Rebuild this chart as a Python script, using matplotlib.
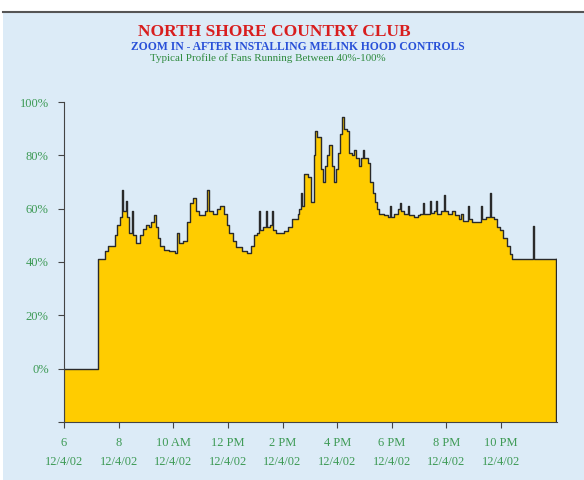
import numpy as np
import matplotlib.pyplot as plt
from matplotlib.patches import Rectangle

# Fan speed profile (hour of day, percent)
hours = [6.00, 7.24, 7.50, 7.61, 7.85, 7.93, 8.04, 8.13, 8.17, 8.27, 8.31, 8.38, 8.50, 8.54,
         8.62, 8.80, 8.88, 9.00, 9.10, 9.18, 9.30, 9.36, 9.45, 9.52, 9.65, 9.85, 10.05, 10.14,
         10.20, 10.35, 10.50, 10.60, 10.72, 10.85, 10.95, 11.15, 11.25, 11.32, 11.45, 11.62,
         11.70, 11.85, 11.95, 12.05, 12.18, 12.30, 12.50, 12.70, 12.85, 12.95, 13.05, 13.15,
         13.18, 13.30, 13.38, 13.42, 13.55, 13.60, 13.64, 13.75, 14.05, 14.20, 14.35, 14.55,
         14.62, 14.68, 14.72, 14.80, 14.95, 15.05, 15.15, 15.20, 15.28, 15.40, 15.48, 15.56,
         15.62, 15.70, 15.80, 15.88, 15.95, 16.03, 16.12, 16.18, 16.25, 16.35, 16.42, 16.55,
         16.62, 16.70, 16.80, 16.88, 16.95, 17.00, 17.12, 17.22, 17.30, 17.38, 17.45, 17.53,
         17.70, 17.85, 17.92, 17.96, 18.10, 18.22, 18.30, 18.34, 18.45, 18.60, 18.64, 18.80,
         18.95, 19.05, 19.15, 19.19, 19.40, 19.44, 19.55, 19.62, 19.66, 19.80, 19.90, 19.94,
         20.05, 20.20, 20.30, 20.45, 20.55, 20.62, 20.80, 20.84, 20.95, 21.10, 21.25, 21.29,
         21.45, 21.60, 21.64, 21.75, 21.85, 21.95, 22.08, 22.22, 22.33, 22.42, 23.17, 23.21,
         24.00]
fan_pct = [0, 41, 44, 46, 50, 54, 57, 67, 59, 63, 57, 51, 59, 50,
           47, 50, 52.5, 54, 53, 55, 57.5, 53, 49, 46, 44.5, 44, 43.5, 51,
           47, 48, 55, 62, 64, 59, 57.5, 59, 67, 59, 58, 60,
           61, 58, 54, 51, 48, 45.5, 44, 43.5, 46, 50, 51, 59,
           52, 53, 59, 53, 54, 59, 52, 51, 51.5, 53, 56, 58,
           60, 66, 61, 73, 72, 62.5, 80, 89, 87, 75, 70, 76,
           80, 84, 76, 70, 75, 81, 88, 94.5, 90, 89, 81, 80,
           82, 79, 76, 79, 82, 79, 77, 70, 66, 62.5, 60, 58,
           57.5, 57, 61, 57, 58, 60, 62, 59, 58, 61, 57.5, 57,
           57.5, 58, 62, 58, 63, 58.5, 59, 63, 58, 59, 65, 59,
           58, 59, 57.5, 56, 58, 55.5, 61, 56, 55, 55, 61, 56,
           57, 66, 57, 56, 53, 52, 49, 46, 43, 41, 53.5, 41,
           41]

tick_hours = [6, 8, 10, 12, 14, 16, 18, 20, 22]
tick_labels = ['6\n12/4/02', '8\n12/4/02', '10 AM\n12/4/02', '12 PM\n12/4/02',
               '2 PM\n12/4/02', '4 PM\n12/4/02', '6 PM\n12/4/02', '8 PM\n12/4/02',
               '10 PM\n12/4/02']
pct_ticks = [0, 20, 40, 60, 80, 100]

bg = '#dcebf7'
green = '#3d9a55'
serif = 'Liberation Serif'

fig = plt.figure(figsize=(5.84, 4.8), dpi=100, facecolor='white')
fig.patches.append(Rectangle((3 / 584, 0), 1, 468 / 480, transform=fig.transFigure,
                             facecolor=bg, edgecolor='none', zorder=-10))
fig.add_artist(plt.Line2D([3 / 584, 1], [468 / 480, 468 / 480], transform=fig.transFigure,
                          color='#555555', lw=1.5))

ax = fig.add_axes([64 / 584, 58 / 480, 493 / 584, 320 / 480])
ax.set_facecolor(bg)

ax.fill_between(hours, -20, fan_pct, step='post', color='#ffcc00', lw=0)
ax.step(hours, fan_pct, where='post', color='#2a2a2a', lw=1.0)
ax.plot([24, 24], [-20, fan_pct[-1]], color='#2a2a2a', lw=1.0)
ax.plot([6, 6], [-20, 0], color='#2a2a2a', lw=1.5)

ax.set_xlim(6, 24.05)
ax.set_ylim(-20, 100)
for s in ['top', 'right']:
    ax.spines[s].set_visible(False)
ax.spines['left'].set_color('#444444')
ax.spines['bottom'].set_color('#444444')

ax.set_yticks(pct_ticks + [-20])
ax.set_yticklabels([f'{p}%' for p in pct_ticks] + [''])
ax.set_xticks(tick_hours)
ax.set_xticklabels(tick_labels, linespacing=1.75)
ax.tick_params(axis='both', direction='out', length=4, color='#444444',
               labelcolor=green, labelsize=9)
for lab in ax.get_xticklabels() + ax.get_yticklabels():
    lab.set_fontfamily(serif)
ax.tick_params(axis='y', pad=7)
ax.tick_params(axis='x', pad=7)

fig.text(274 / 584, 1 - 32 / 480, 'NORTH SHORE COUNTRY CLUB', ha='center', va='center',
         color='#d81e1e', fontsize=12.5, fontweight='bold', family=serif)
fig.text(298 / 584, 1 - 47 / 480, 'ZOOM IN - AFTER INSTALLING MELINK HOOD CONTROLS',
         ha='center', va='center', color='#2850d8', fontsize=8.4, fontweight='bold',
         family=serif)
fig.text(268 / 584, 1 - 58 / 480, 'Typical Profile of Fans Running Between 40%-100%',
         ha='center', va='center', color='#2e8a3e', fontsize=7.9, family=serif)

fig.savefig('out.png', dpi=100, facecolor=fig.get_facecolor())
